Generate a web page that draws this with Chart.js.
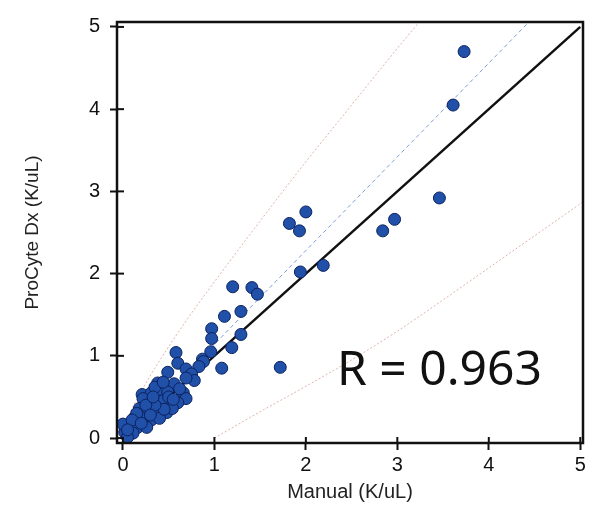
<!DOCTYPE html>
<html>
<head>
<meta charset="utf-8">
<title>ProCyte Dx vs Manual</title>
<script src="https://cdn.jsdelivr.net/npm/chart.js@4/dist/chart.umd.min.js"></script>
<style>
    html, body { margin: 0; padding: 0; background: #fff; }
</style>
</head>
<body>
<canvas id="chart" width="590" height="510"></canvas>
<script>
// Manual count vs ProCyte Dx count (K/uL)
const manualX = [
    3.73, 3.61, 3.46, 2.97, 2.84, 2.19, 2.00, 1.82, 1.93, 1.94,
    1.72, 1.41, 1.47, 1.20, 1.29, 1.11, 1.29, 1.19, 0.97, 0.97,
    0.96, 1.08, 0.87, 0.88, 0.83, 0.58, 0.60, 0.69, 0.75, 0.49,
    0.78, 0.69, 0.38, 0.45, 0.56, 0.21, 0.31, 0.40, 0.49, 0.66,
    0.69, 0.60, 0.51, 0.42, 0.31, 0.22, 0.18, 0.27, 0.38, 0.48,
    0.54, 0.13, 0.22, 0.31, 0.40, 0.08, 0.16, 0.26, 0.02, 0.11,
    0.05, 0.00, 0.35, 0.50, 0.45, 0.35, 0.25, 0.15, 0.10, 0.20,
    0.30, 0.55, 0.62, 0.44, 0.33, 0.05
];
const procyteY = [
    4.70, 4.05, 2.92, 2.66, 2.52, 2.10, 2.75, 2.61, 2.52, 2.02,
    0.86, 1.83, 1.75, 1.84, 1.54, 1.48, 1.26, 1.10, 1.33, 1.21,
    1.05, 0.85, 0.96, 0.93, 0.87, 1.04, 0.91, 0.84, 0.78, 0.80,
    0.70, 0.73, 0.67, 0.61, 0.66, 0.53, 0.55, 0.55, 0.56, 0.55,
    0.48, 0.43, 0.39, 0.45, 0.43, 0.48, 0.36, 0.33, 0.31, 0.31,
    0.36, 0.25, 0.24, 0.22, 0.24, 0.16, 0.13, 0.13, 0.07, 0.06,
    0.01, 0.17, 0.62, 0.50, 0.35, 0.40, 0.40, 0.30, 0.22, 0.18,
    0.28, 0.47, 0.60, 0.68, 0.50, 0.10
];

// line of identity and the fitted (dashed) line
const identityX = [0, 5];
const identityY = [0, 5];
const fitX = [0, 4.5];
const fitY = [0, 5.13];

// dotted prediction bounds
const upperX = [0, 0.05, 0.1, 0.2, 0.4, 0.7, 1.0, 1.5, 2.0, 2.5, 3.0, 3.3];
const upperY = [0, 0.23, 0.36, 0.57, 0.94, 1.44, 1.90, 2.64, 3.36, 4.05, 4.74, 5.14];
const lowerX = [1.0, 1.5, 2.0, 2.5, 3.0, 3.5, 4.0, 4.5, 5.0, 5.1];
const lowerY = [0, 0.32, 0.63, 0.95, 1.30, 1.68, 2.07, 2.46, 2.85, 2.93];

const axisTicks = [0, 1, 2, 3, 4, 5];
const rLabel = 'R = 0.963';

const toPoints = (xs, ys) => xs.map((x, i) => ({ x: x, y: ys[i] }));

const tickFont = { family: 'Liberation Sans, Arial, sans-serif', size: 20 };

// frame round the plot + the inner half of each major tick
const framePlugin = {
    id: 'frame',
    afterDatasetsDraw(chart) {
        const { ctx, chartArea: a, scales } = chart;
        ctx.save();
        ctx.strokeStyle = '#111';
        ctx.lineWidth = 2;
        scales.x.ticks.forEach(t => {
            const px = scales.x.getPixelForValue(t.value);
            ctx.beginPath();
            ctx.moveTo(px, a.bottom);
            ctx.lineTo(px, a.bottom - 6);
            ctx.stroke();
        });
        scales.y.ticks.forEach(t => {
            const py = scales.y.getPixelForValue(t.value);
            ctx.beginPath();
            ctx.moveTo(a.left, py);
            ctx.lineTo(a.left + 7, py);
            ctx.stroke();
        });
        ctx.lineWidth = 2.5;
        ctx.strokeRect(a.left, a.top, a.right - a.left, a.bottom - a.top);
        ctx.restore();
    }
};

const rLabelPlugin = {
    id: 'rLabel',
    afterDraw(chart) {
        const { ctx } = chart;
        ctx.save();
        ctx.fillStyle = '#111';
        ctx.font = '48px "Noto Sans", sans-serif';
        ctx.textAlign = 'left';
        ctx.textBaseline = 'alphabetic';
        ctx.fillText(rLabel, 337, 385);
        ctx.restore();
    }
};

new Chart(document.getElementById('chart'), {
    type: 'scatter',
    data: {
        datasets: [
            {
                label: 'samples',
                data: toPoints(manualX, procyteY),
                backgroundColor: '#2150a8',
                borderColor: '#0b2260',
                borderWidth: 1,
                pointRadius: 6,
                order: 0
            },
            {
                label: 'identity',
                data: toPoints(identityX, identityY),
                showLine: true,
                borderColor: '#111',
                borderWidth: 2.5,
                pointRadius: 0,
                order: 1
            },
            {
                label: 'fit',
                data: toPoints(fitX, fitY),
                showLine: true,
                borderColor: '#7d9dd6',
                borderWidth: 1,
                borderDash: [4, 3],
                pointRadius: 0,
                order: 2
            },
            {
                label: 'upper',
                data: toPoints(upperX, upperY),
                showLine: true,
                borderColor: 'rgba(215, 160, 150, 0.8)',
                borderWidth: 1,
                borderDash: [2, 2],
                cubicInterpolationMode: 'monotone',
                pointRadius: 0,
                order: 3
            },
            {
                label: 'lower',
                data: toPoints(lowerX, lowerY),
                showLine: true,
                borderColor: 'rgba(215, 160, 150, 0.8)',
                borderWidth: 1,
                borderDash: [2, 2],
                cubicInterpolationMode: 'monotone',
                pointRadius: 0,
                order: 3
            }
        ]
    },
    options: {
        responsive: false,
        animation: false,
        layout: { padding: { top: 15, right: 2, left: 0, bottom: 0 } },
        plugins: {
            legend: { display: false },
            tooltip: { enabled: false }
        },
        scales: {
            x: {
                type: 'linear',
                min: -0.065,
                max: 5.03,
                afterBuildTicks: scale => { scale.ticks = axisTicks.map(v => ({ value: v })); },
                afterFit: scale => { scale.height = 67; },
                border: { display: false },
                grid: {
                    drawOnChartArea: false,
                    tickLength: 7,
                    tickWidth: 2,
                    tickColor: '#111'
                },
                ticks: { font: tickFont, color: '#111', padding: 3 },
                title: {
                    display: true,
                    text: 'Manual (K/uL)',
                    font: { family: 'Liberation Sans, Arial, sans-serif', size: 20 },
                    color: '#222',
                    padding: { top: 0, bottom: 6 }
                }
            },
            y: {
                type: 'linear',
                min: -0.06,
                max: 5.06,
                afterBuildTicks: scale => { scale.ticks = axisTicks.map(v => ({ value: v })); },
                afterFit: scale => { scale.width = 117; },
                border: { display: false },
                grid: {
                    drawOnChartArea: false,
                    tickLength: 7,
                    tickWidth: 2,
                    tickColor: '#111'
                },
                ticks: { font: tickFont, color: '#111', padding: 10 },
                title: {
                    display: true,
                    text: 'ProCyte Dx (K/uL)',
                    font: { family: 'Liberation Sans, Arial, sans-serif', size: 19 },
                    color: '#222',
                    padding: { top: 21, bottom: 0 }
                }
            }
        }
    },
    plugins: [framePlugin, rLabelPlugin]
});
</script>
</body>
</html>
